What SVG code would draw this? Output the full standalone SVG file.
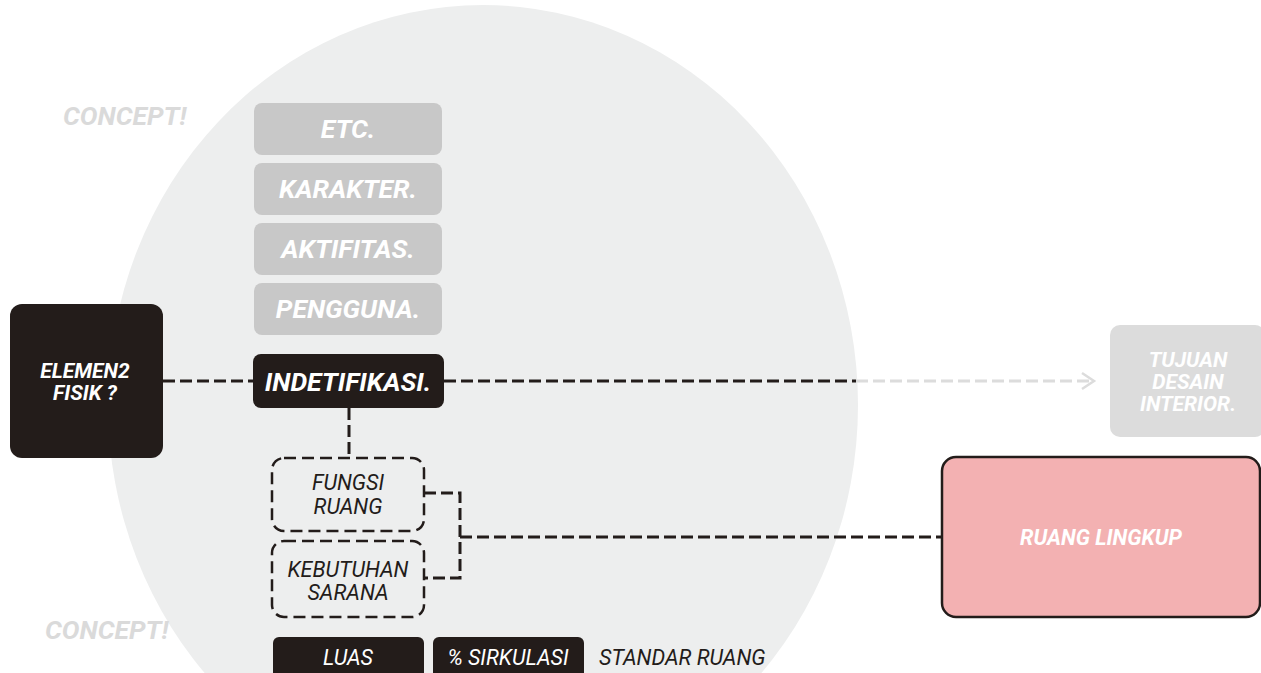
<svg xmlns="http://www.w3.org/2000/svg" width="1261" height="673" viewBox="0 0 1261 673">
<style>
.gbox{fill:#c8c8c8}
.dbox{fill:#231c1a}
.wt{fill:#ffffff;font-family:Roboto,"Liberation Sans",sans-serif;font-style:italic;font-weight:bold;text-anchor:middle}
.it{font-family:Roboto,"Liberation Sans",sans-serif;font-style:italic;text-anchor:middle;font-size:21.5px}
.dash{fill:none;stroke:#231c1a;stroke-width:3;stroke-dasharray:12 5}
.dashbox{fill:none;stroke:#231c1a;stroke-width:2.5;stroke-dasharray:12 6}
.concept{fill:#dadada;font-family:Roboto,"Liberation Sans",sans-serif;font-style:italic;font-weight:bold;font-size:26.5px}
</style>
<rect width="1261" height="673" fill="#ffffff"/>
<ellipse cx="483" cy="405" rx="375" ry="400" fill="#edeeee"/>
<text class="concept" x="63" y="125">CONCEPT!</text>
<text class="concept" x="45" y="639">CONCEPT!</text>
<g id="connectors">
<line class="dash" x1="163" y1="381" x2="253" y2="381"/>
<line class="dash" x1="444" y1="381" x2="856" y2="381"/>
<line x1="856" y1="381" x2="1093" y2="381" fill="none" stroke="#dcdcdc" stroke-width="3" stroke-dasharray="12 5"/>
<polyline points="1082,373 1094,381 1082,389" fill="none" stroke="#dcdcdc" stroke-width="2.5"/>
<line class="dash" x1="349" y1="408" x2="349" y2="458"/>
<polyline class="dash" points="424,493 460,493 460,578 424,578"/>
<line class="dash" x1="460" y1="537" x2="942" y2="537"/>
</g>
<g id="etc"><rect class="gbox" x="254" y="103" width="188" height="52" rx="8"/><text class="wt" x="348" y="138" font-size="26.5">ETC.</text></g>
<g id="karakter"><rect class="gbox" x="254" y="163" width="188" height="52" rx="8"/><text class="wt" x="348" y="198" font-size="26.5">KARAKTER.</text></g>
<g id="aktifitas"><rect class="gbox" x="254" y="223" width="188" height="52" rx="8"/><text class="wt" x="348" y="258" font-size="26.5">AKTIFITAS.</text></g>
<g id="pengguna"><rect class="gbox" x="254" y="283" width="188" height="52" rx="8"/><text class="wt" x="348" y="318" font-size="26.5">PENGGUNA.</text></g>
<g id="indetifikasi"><rect class="dbox" x="253" y="354" width="191" height="54" rx="8"/><text class="wt" x="348" y="391" font-size="26.5">INDETIFIKASI.</text></g>
<g id="elemen"><rect class="dbox" x="10" y="304" width="153" height="154" rx="12"/><text class="wt" x="85" y="378" font-size="21">ELEMEN2</text><text class="wt" x="85" y="400" font-size="21">FISIK ?</text></g>
<g id="tujuan"><rect x="1110" y="325" width="155" height="112" rx="10" fill="#dcdcdc"/><text class="wt" x="1188" y="367" font-size="21">TUJUAN</text><text class="wt" x="1188" y="389" font-size="21">DESAIN</text><text class="wt" x="1188" y="411" font-size="21">INTERIOR.</text></g>
<g id="fungsi"><rect class="dashbox" x="272" y="458" width="152" height="73" rx="12"/><text class="it" x="348" y="490" fill="#231c1a">FUNGSI</text><text class="it" x="348" y="514" fill="#231c1a">RUANG</text></g>
<g id="kebutuhan"><rect class="dashbox" x="272" y="541" width="152" height="76" rx="12"/><text class="it" x="348" y="577" fill="#231c1a">KEBUTUHAN</text><text class="it" x="348" y="600" fill="#231c1a">SARANA</text></g>
<g id="ruang-lingkup"><rect x="942" y="457" width="318" height="160" rx="14" fill="#f3b1b2" stroke="#231c1a" stroke-width="2.5"/><text class="wt" x="1101" y="545" font-size="21.5">RUANG LINGKUP</text></g>
<g id="luas"><rect class="dbox" x="273" y="637" width="151" height="44" rx="6"/><text class="it" x="348" y="665" fill="#ffffff">LUAS</text></g>
<g id="sirkulasi"><rect class="dbox" x="433" y="637" width="151" height="44" rx="6"/><text class="it" x="508" y="665" fill="#ffffff">% SIRKULASI</text></g>
<g id="standar"><text class="it" x="599" y="665" fill="#231c1a" style="text-anchor:start">STANDAR RUANG</text></g>
</svg>
